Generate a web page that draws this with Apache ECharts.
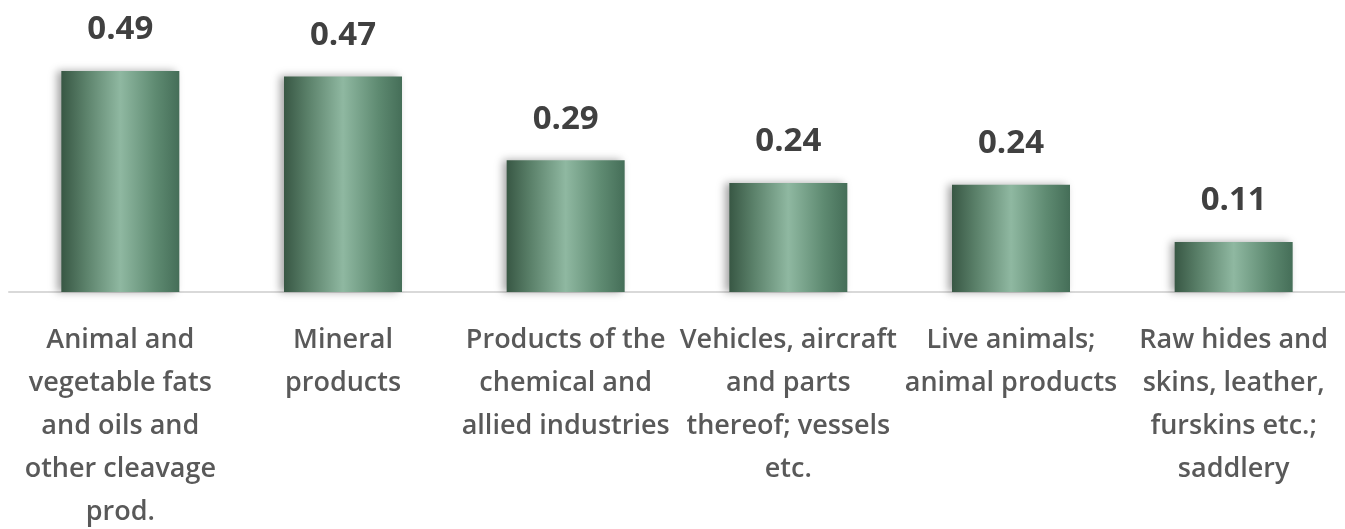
<!DOCTYPE html>
<html>
<head>
<meta charset="utf-8">
<script src="https://cdn.jsdelivr.net/npm/echarts@6/dist/echarts.min.js"></script>
<style>
html,body{margin:0;padding:0;background:#fff;}
#chart{width:1345px;height:529px;}
</style>
</head>
<body>
<div id="chart"></div>
<script>
const categories = [
  'Animal and\nvegetable fats\nand oils and\nother cleavage\nprod.',
  'Mineral\nproducts',
  'Products of the\nchemical and\nallied industries',
  'Vehicles, aircraft\nand parts\nthereof; vessels\netc.',
  'Live animals;\nanimal products',
  'Raw hides and\nskins, leather,\nfurskins etc.;\nsaddlery'
];
const values = [0.486, 0.474, 0.29, 0.24, 0.236, 0.11];

const chart = echarts.init(document.getElementById('chart'), null, {renderer: 'canvas'});
const barColor = new echarts.graphic.LinearGradient(0, 0, 1, 0, [
  {offset: 0, color: '#385744'},
  {offset: 0.2, color: '#5a8069'},
  {offset: 0.5, color: '#8fb8a1'},
  {offset: 0.8, color: '#5e8a71'},
  {offset: 1, color: '#456e58'}
]);
chart.setOption({
  animation: false,
  grid: {left: 9, right: 0, top: 1, height: 291, containLabel: false, outerBoundsMode: 'none'},
  xAxis: {
    type: 'category',
    data: categories,
    axisTick: {show: false},
    axisLine: {lineStyle: {color: '#d9d9d9', width: 2}},
    axisLabel: {
      interval: 0,
      margin: 27,
      color: '#595959',
      fontFamily: 'Open Sans',
      fontSize: 27,
      fontWeight: 600,
      lineHeight: 43
    }
  },
  yAxis: {
    type: 'value',
    min: 0,
    max: 0.64,
    show: false,
    splitLine: {show: false}
  },
  series: [{
    type: 'bar',
    data: values,
    barWidth: 118,
    itemStyle: {
      color: barColor,
      shadowColor: 'rgba(0,0,0,0.35)',
      shadowBlur: 8,
      shadowOffsetX: -4,
      shadowOffsetY: 0
    },
    label: {
      show: true,
      position: 'top',
      distance: 25,
      color: '#404040',
      fontFamily: 'Open Sans',
      fontWeight: 'bold',
      fontSize: 33,
      lineHeight: 32,
      formatter: p => p.value.toFixed(2)
    }
  }]
});
</script>
</body>
</html>
